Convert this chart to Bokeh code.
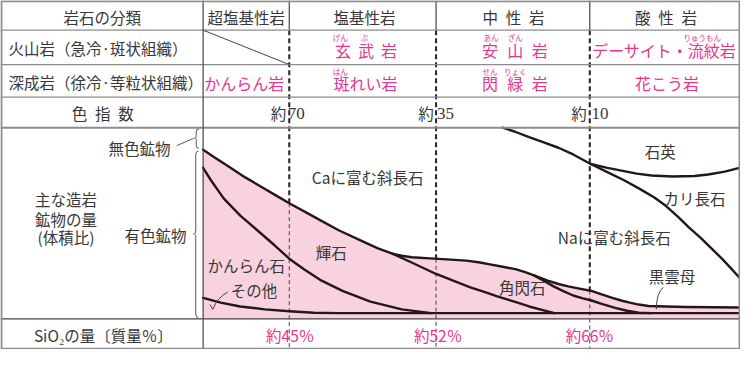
import numpy as np
from bokeh.plotting import figure
from bokeh.models import Range1d
from bokeh.embed import file_html
from bokeh.resources import INLINE
from bokeh.core.properties import value

FONT = "Noto Sans CJK JP"
SERIF = "Liberation Serif"
INK = "#383838"
CURVE = "#231815"
MAG = "#e6358e"
PINK = "#f8d2de"
GRID = "#8c8c8c"

# ---------------- data ----------------
# horizontal: 0 = left edge of the mineral panel, 100 = right edge
# vertical: volume % of rock (0 bottom, 100 top)
group_names = ["超塩基性岩", "塩基性岩", "中\u2002性\u2002岩", "酸\u2002性\u2002岩"]
group_bounds = [0, 16.06, 43.43, 72.08, 100]
color_index = ["70", "35", "10"]
sio2_labels = ["約45％", "約52％", "約66％"]

# upper limit of mafic minerals (Ca-plagioclase boundary), continuing as pyroxene / amphibole boundary
mafic_x = [0, 2.37, 5.11, 7.85, 10.58, 13.32, 16.06, 20.62, 25.18, 29.74, 32.48, 35.4]
mafic_y = [88.5, 84, 79, 74, 69.5, 65, 60.5, 53.5, 46.5, 40.5, 37, 34]
pyx_amph_x = [35.4, 38.87, 43.43, 47.08, 49.82, 52.55, 55.11, 58.03, 60.77, 63.5, 65.51]
pyx_amph_y = [34, 29.5, 23.5, 19.5, 16.5, 14, 11.5, 9, 6.5, 4.5, 3]
# top of amphibole + biotite field
amph_top_x = [35.4, 37.04, 38.87, 43.07, 46.17, 49.09, 51.64, 53.47, 55.84, 58.21, 60.04, 61.68,
              64.23, 66.24, 68.07, 69.89, 72.26, 74.45, 76.28, 78.1, 79.56, 81.2, 83.03, 86.31, 89.96, 100]
amph_top_y = [34, 33, 32.25, 31.5, 31, 30.5, 29.5, 28.5, 27.25, 26, 24.5, 22.75,
              20, 18.25, 17, 16, 14.75, 12.75, 11, 9.5, 8.5, 7.5, 6.75, 6.5, 6.25, 6]
# amphibole / biotite boundary
amph_bio_x = [61.68, 63.5, 65.33, 67.15, 68.98, 70.8, 72.26, 74.45, 76.82, 79.01, 81.2, 83.58]
amph_bio_y = [22.75, 20, 17, 14.5, 12.25, 10.75, 9.75, 7.75, 5.75, 4.25, 3.25, 3]
# olivine / pyroxene boundary
olivine_x = [0, 1.46, 3.83, 6.93, 10.04, 13.32, 16.06, 18.8, 22.08, 26.09, 31.2, 37.04, 42.52]
olivine_y = [79, 72.5, 63, 54, 46.5, 38.5, 31.5, 26, 20, 14.5, 9, 5, 3]
# top of "others"
other_x = [0, 3.28, 6.93, 11.5, 16.06, 20.62, 25.18, 100]
other_y = [11, 8.5, 6.5, 5, 4, 3.25, 3, 3]
# Na-plagioclase / K-feldspar (and quartz) boundary
kspar_x = [55.84, 58.03, 60.77, 63.5, 66.24, 68.98, 72.26, 75.36, 78.47, 81.39, 84.12, 86.31,
           88.5, 90.51, 92.7, 94.71, 96.72, 98.54, 100]
kspar_y = [100, 98, 95, 92.25, 89.5, 86, 81, 76.75, 72.5, 68, 63.5, 59,
           53.5, 48, 42.5, 37, 31.5, 26, 21.5]
# quartz lower boundary
quartz_x = [72.26, 75.36, 78.47, 80.84, 83.58, 87.59, 91.61, 94.16, 97.26, 100]
quartz_y = [81, 79, 77.25, 76, 75, 74.5, 74.75, 75.5, 77, 79]

# ---------------- figure ----------------
X0, X1 = -37.77, 100.18
Y0, Y1 = -16.0, 166.5
p = figure(width=740, height=349, x_range=Range1d(X0, X1), y_range=Range1d(Y0, Y1),
           output_backend="svg", toolbar_location=None, min_border=0,
           x_axis_location=None, y_axis_location=None)
p.grid.visible = False
p.outline_line_color = None
p.background_fill_color = "white"
p.border_fill_color = "white"

ROW1, ROW2, ROW3, ROW4 = 151, 133, 116, 100

# pink field of mafic minerals
env_x = np.array(mafic_x[:-1] + amph_top_x)
env_y = np.array(mafic_y[:-1] + amph_top_y)
p.varea(x=env_x, y1=np.zeros_like(env_y), y2=env_y, fill_color=PINK)

# dashed column boundaries
for b in group_bounds[1:4]:
    top_pink = float(np.interp(b, env_x, env_y))
    p.segment(x0=[b], y0=[ROW1], x1=[b], y1=[top_pink], line_color="#222222",
              line_width=2, line_dash="5 3")
    p.segment(x0=[b], y0=[top_pink], x1=[b], y1=[Y0], line_color="#444444",
              line_width=1, line_dash="4 3")
    p.segment(x0=[b], y0=[ROW1], x1=[b], y1=[Y1], line_color="#444444", line_width=1.2)

# mineral curves
for xs, ys in [(mafic_x, mafic_y), (pyx_amph_x, pyx_amph_y), (amph_top_x, amph_top_y),
               (amph_bio_x, amph_bio_y), (olivine_x, olivine_y), (other_x, other_y),
               (kspar_x, kspar_y), (quartz_x, quartz_y)]:
    p.line(xs, ys, line_color=CURVE, line_width=2.4, line_join="round", line_cap="round")

# table rules
p.segment(x0=[X0] * 3, y0=[ROW1, ROW2, ROW3], x1=[X1] * 3, y1=[ROW1, ROW2, ROW3],
          line_color=GRID, line_width=1.2)
p.segment(x0=[X0], y0=[ROW4], x1=[X1], y1=[ROW4], line_color=GRID, line_width=2)
p.segment(x0=[X0], y0=[0], x1=[X1], y1=[0], line_color="#444444", line_width=1.4)
p.segment(x0=[0], y0=[Y0], x1=[0], y1=[Y1], line_color="#444444", line_width=1.2)
p.segment(x0=[0], y0=[ROW1], x1=[group_bounds[1]], y1=[ROW2], line_color="#444444", line_width=1)
p.rect(x=[(X0 + X1) / 2], y=[(Y0 + Y1) / 2], width=[X1 - X0 - 0.35], height=[Y1 - Y0 - 0.9],
       fill_color=None, line_color=GRID, line_width=2)


def txt(xs, ys, texts, size="15.5px", color=INK, align="center", font=FONT):
    p.text(x=xs, y=ys, text=texts, text_font=value(font), text_font_size=size,
           text_color=color, text_align=align, text_baseline="middle")


# header row
txt([-18.8, 8.03, 30.1, 57.85, 86.3], [158] * 5, ["岩石の分類"] + group_names)
txt([-36.3, -36.3], [141.5, 124], ["火山岩（急冷·斑状組織）", "深成岩（徐冷·等粒状組織）"], align="left")
txt([-18.7], [107.5], ["色\u2002指\u2002数"])
txt([-18.6], [-8.3], ["SiO₂の量〔質量％〕"])

# rock names (magenta) with ruby
volc_chars = ["玄", "武", "岩", "安", "山", "岩"]
volc_x = [26.1, 30.4, 34.67, 53.47, 58.21, 62.77]
txt(volc_x, [140.5] * 6, volc_chars, size="16px", color=MAG)
txt([85.95], [140.5], ["デーサイト・流紋岩"], size="16px", color=MAG)
txt([25.55, 30.1, 53.65, 58.21, 93.07], [147.4] * 5, ["げん", "ぶ", "あん", "ざん", "りゅうもん"],
    size="7.5px", color=MAG)
txt([7.66, 30.29, 86.5], [123.3] * 3, ["かんらん岩", "斑れい岩", "花こう岩"], size="16px", color=MAG)
txt([53.47, 58.21, 62.77], [123.3] * 3, ["閃", "緑", "岩"], size="16px", color=MAG)
txt([25.55, 53.47, 58.21], [129.6] * 3, ["はん", "せん", "りょく"], size="7.5px", color=MAG)

# color index
txt([15.5, 43.0, 71.5], [107.5] * 3, ["約"] * 3, align="right")
txt([15.8, 43.6, 72.4], [107.3] * 3, color_index, size="17px", align="left", font=SERIF)

# SiO2
txt([16.24, 43.8, 72.08], [-8.5] * 3, sio2_labels, color=MAG)

# mineral labels
txt([30.66, 23.9, 8.03, 9.49, 59.5, 76.64, 85.2, 91.6, 87.4],
    [74, 35, 28, 15, 16.5, 43, 88, 63, 22.5],
    ["Caに富む斜長石", "輝石", "かんらん石", "その他", "角閃石", "Naに富む斜長石", "石英", "カリ長石", "黒雲母"])

# left labels
txt([-25.55] * 3, [62.5, 52.5, 43], ["主な造岩", "鉱物の量", "(体積比)"])
txt([-11.86], [89.5], ["無色鉱物"])
txt([-3.1], [44], ["有色鉱物"], align="right")


def brace(x0, ytop, ybot, d, c):
    ym = (ytop + ybot) / 2
    p.quadratic(x0=[x0 + d, x0, x0, x0], y0=[ytop, ym + c, ym, ybot + c],
                x1=[x0, x0 - d, x0, x0 + d], y1=[ytop - c, ym, ym - c, ybot],
                cx=[x0, x0, x0, x0], cy=[ytop, ym, ym, ybot], line_color="#555555", line_width=1)
    p.segment(x0=[x0, x0], y0=[ytop - c, ym - c], x1=[x0, x0], y1=[ym + c, ybot + c],
              line_color="#555555", line_width=1)


brace(-1.28, 99.3, 89.2, 0.5, 1.5)
brace(-1.37, 87.8, 0.6, 0.5, 2.0)
p.segment(x0=[-4.9], y0=[90.6], x1=[-1.9], y1=[94.3], line_color="#555555", line_width=1)

# pointers
p.quadratic(x0=[85.77, 4.56], y0=[16.5, 14], x1=[84.49, 1.82], y1=[5, 5],
            cx=[84.5, 2.6], cy=[13.5, 11], line_color="#444444", line_width=1)
p.segment(x0=[1.28], y0=[7.5], x1=[1.82], y1=[5], line_color="#444444", line_width=1)

open("out.html", "w").write(file_html(p, INLINE))
